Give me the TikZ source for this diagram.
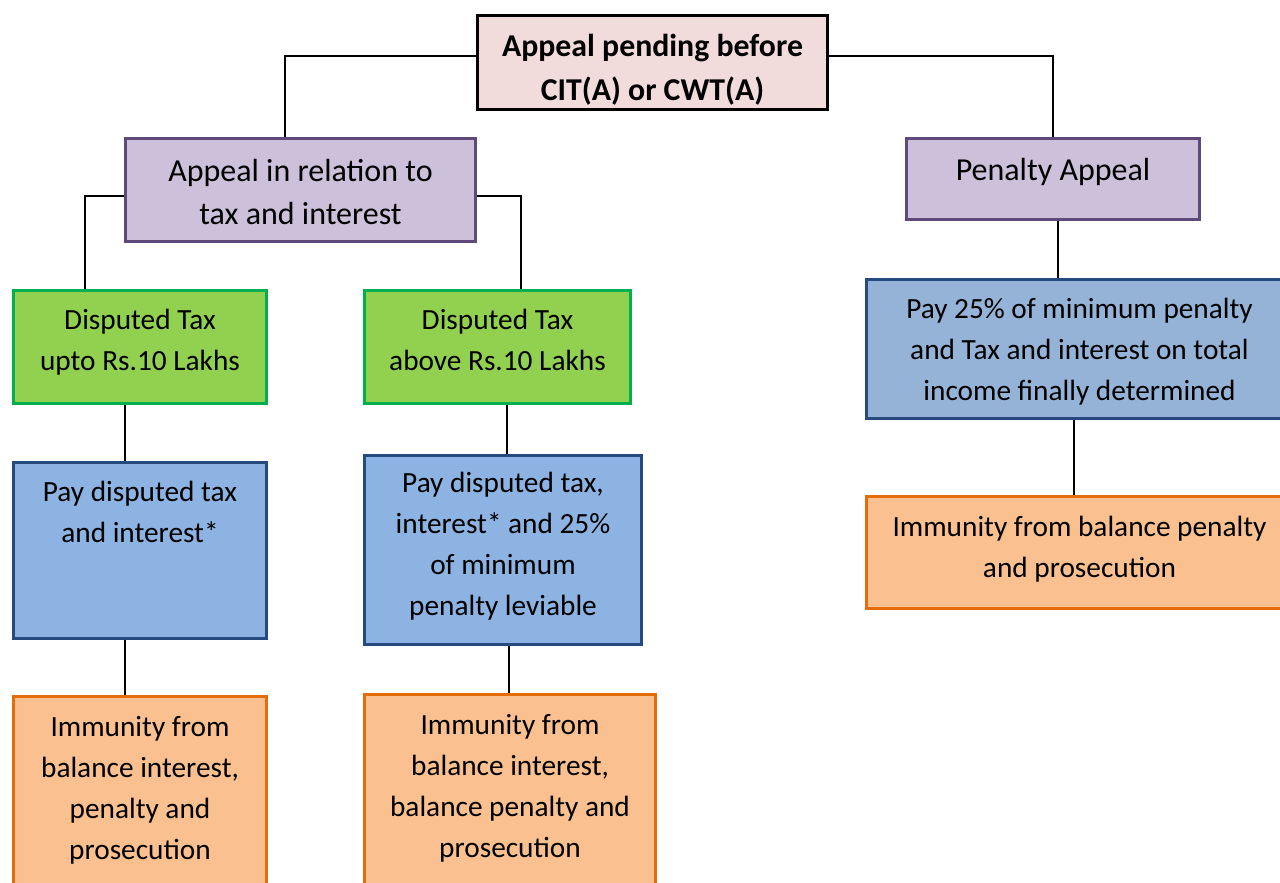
\documentclass[tikz,border=0pt]{standalone}
\usepackage{fontspec}
\setmainfont{Carlito}
\usetikzlibrary{calc}
\definecolor{topfill}{HTML}{F2DCDB}
\definecolor{purfill}{HTML}{CCC0DA}
\definecolor{purdraw}{HTML}{5F497A}
\definecolor{grnfill}{HTML}{92D050}
\definecolor{grndraw}{HTML}{00B050}
\definecolor{bluefill}{HTML}{8DB3E2}
\definecolor{bluefillb}{HTML}{95B3D7}
\definecolor{bluedraw}{HTML}{244A7E}
\definecolor{orgfill}{HTML}{FAC090}
\definecolor{orgdraw}{HTML}{E46C0A}
\begin{document}
\begin{tikzpicture}[x=1pt,y=-1pt,
  box/.style={rectangle, draw, line width=3pt, inner sep=0pt},
  topbox/.style={box, fill=topfill, draw=black, line width=3.5pt},
  purbox/.style={box, fill=purfill, draw=purdraw},
  grnbox/.style={box, fill=grnfill, draw=grndraw},
  bluebox/.style={box, fill=bluefill, draw=bluedraw},
  blueboxb/.style={box, fill=bluefillb, draw=bluedraw},
  orgbox/.style={box, fill=orgfill, draw=orgdraw},
  txt/.style={align=center, inner sep=0pt, font=\fontsize{29.3}{41}\selectfont},
  bigtxt/.style={align=center, inner sep=0pt, font=\fontsize{32}{43}\selectfont},
  boldtxt/.style={align=center, inner sep=0pt, font=\fontsize{31.8}{44}\selectfont\bfseries},
  conn/.style={draw=black, line width=2pt}]
\useasboundingbox (0,0) rectangle (1280,883);
\fill[white] (0,0) rectangle (1280,883);

% boxes
\node[topbox, minimum width=350, minimum height=94] (top) at (652.5,62.5) {};
\node[purbox, minimum width=350, minimum height=103] (app) at (300.5,190) {};
\node[purbox, minimum width=293, minimum height=81] (pen) at (1053,179) {};
\node[grnbox, minimum width=253, minimum height=113] (g1) at (140,347) {};
\node[grnbox, minimum width=266, minimum height=113] (g2) at (497.5,347) {};
\node[bluebox, minimum width=253, minimum height=176] (b1) at (140,550.5) {};
\node[bluebox, minimum width=277, minimum height=189] (b2) at (503,550) {};
\node[blueboxb, minimum width=426, minimum height=139] (b3) at (1079.5,349) {};
\node[orgbox, minimum width=253, minimum height=207] (o1) at (140,800) {};
\node[orgbox, minimum width=291, minimum height=209] (o2) at (510,799) {};
\node[orgbox, minimum width=426, minimum height=112] (o3) at (1079.5,552.5) {};

% texts
\node[boldtxt] (topT) at (652.5,70) {Appeal pending before\\CIT(A) or CWT(A)};
\node[bigtxt] (appT) at (300.5,192) {Appeal in relation to\\tax and interest};
\node[bigtxt] (penT) at (1053,172) {Penalty Appeal};
\node[txt] (g1T) at (140,342.5) {Disputed Tax\\upto Rs.10 Lakhs};
\node[txt] (g2T) at (497.5,340) {Disputed Tax\\above Rs.10 Lakhs};
\node[txt] (b1T) at (140,512) {Pay disputed tax\\and interest*};
\node[txt] (b2T) at (503,546.5) {Pay disputed tax,\\interest* and 25\%\\of minimum\\penalty leviable};
\node[txt] (b3T) at (1079.5,352) {Pay 25\% of minimum penalty\\and Tax and interest on total\\income finally determined};
\node[txt] (o1T) at (140,790) {Immunity from\\balance interest,\\penalty and\\prosecution};
\node[txt] (o2T) at (510,788) {Immunity from\\balance interest,\\balance penalty and\\prosecution};
\node[txt] (o3T) at (1079.5,549.5) {Immunity from balance penalty\\and prosecution};

% connectors
\draw[conn] ([yshift=6.5pt]top.west) -| ([xshift=-15.5pt]app.north);
\draw[conn] ([yshift=6.5pt]top.east) -| (pen.north);
\draw[conn] ([yshift=-6pt]app.west) -| ([xshift=-55pt]g1.north);
\draw[conn] ([yshift=-6pt]app.east) -| ([xshift=23.5pt]g2.north);
\draw[conn] ([xshift=-15pt]g1.south) -- ([xshift=-15pt]g1.south |- b1.north);
\draw[conn] ([xshift=9.5pt]g2.south) -- ([xshift=9.5pt]g2.south |- b2.north);
\draw[conn] ([xshift=-15pt]b1.south) -- ([xshift=-15pt]b1.south |- o1.north);
\draw[conn] ([xshift=6pt]b2.south) -- ([xshift=6pt]b2.south |- o2.north);
\draw[conn] ([xshift=5pt]pen.south) -- ([xshift=5pt]pen.south |- b3.north);
\draw[conn] ([xshift=-5.5pt]b3.south) -- ([xshift=-5.5pt]b3.south |- o3.north);
\end{tikzpicture}
\end{document}
